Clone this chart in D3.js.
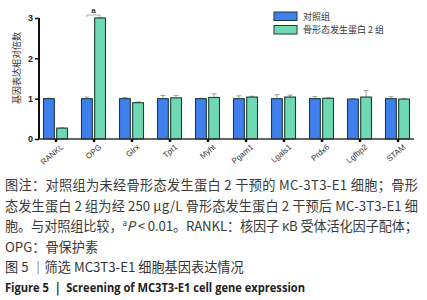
<!DOCTYPE html>
<html lang="zh">
<head>
<meta charset="UTF-8">
<title>MC3T3-E1 基因表达</title>
<script src="https://cdn.jsdelivr.net/npm/d3@7"></script>
<style>
  body { margin: 0; background: #fff; }
  svg { display: block; }
  .cap { font-family: "Noto Sans CJK SC", sans-serif; font-size: 13.2px; fill: #3a3a3a; }
</style>
</head>
<body>
<svg width="427" height="300"></svg>
<script>
// ---- data ----
var genes = ["RANKL", "OPG", "Glrx", "Tpt1", "Myht", "Pgam1", "Lgals1", "Prdx6", "Lgfbp2", "STAM"];
var groups = ["对照组", "骨形态发生蛋白 2 组"];
var controlVals = [1.00, 1.00, 1.00, 1.00, 1.00, 1.00, 1.00, 1.00, 0.99, 1.00];
var controlErr  = [0.01, 0.04, 0.03, 0.08, 0.01, 0.07, 0.10, 0.05, 0.01, 0.05];
var bmpVals     = [0.27, 3.00, 0.90, 1.02, 1.03, 1.04, 1.04, 1.01, 1.04, 0.99];
var bmpErr      = [0.01, 0.01, 0.02, 0.06, 0.09, 0.02, 0.05, 0.01, 0.16, 0.01];
var yTicks = [0, 1, 2, 3];
// "|" marks where the superscript a goes; the letter after it is italic
var captionLines = [
  "图注：对照组为未经骨形态发生蛋白 2 干预的 MC-3T3-E1 细胞；骨形",
  "态发生蛋白 2 组为经 250 μg/L 骨形态发生蛋白 2 干预后 MC-3T3-E1 细",
  "胞。与对照组比较，|P < 0.01。RANKL：核因子 κB 受体活化因子配体；",
  "OPG：骨保护素"
];

var colors = ["#3f80ee", "#6fd9b3"];
var svg = d3.select("svg");

var x = d3.scaleBand().domain(genes).range([37, 417]);
var sub = d3.scaleBand().domain(groups).range([-12.5, 11.5]).paddingInner(0.18);
var y = d3.scaleLinear().domain([0, 3]).range([139, 18]);

var rows = genes.map(function (g, i) {
  return { gene: g, vals: [controlVals[i], bmpVals[i]], errs: [controlErr[i], bmpErr[i]] };
});

var g = svg.append("g");

// error bars (behind bars)
rows.forEach(function (r) {
  groups.forEach(function (grp, k) {
    var cx = x(r.gene) + x.bandwidth() / 2 + sub(grp) + sub.bandwidth() / 2;
    var top = y(r.vals[k] + r.errs[k]);
    g.append("line").attr("x1", cx).attr("x2", cx)
      .attr("y1", y(r.vals[k])).attr("y2", top)
      .attr("stroke", "#888").attr("stroke-width", 0.8);
    g.append("line").attr("x1", cx - 2.5).attr("x2", cx + 2.5)
      .attr("y1", top).attr("y2", top)
      .attr("stroke", "#888").attr("stroke-width", 0.8);
  });
});

// bars
var pair = g.selectAll(".pair").data(rows).enter().append("g")
  .attr("transform", function (d) { return "translate(" + (x(d.gene) + x.bandwidth() / 2) + ",0)"; });
pair.selectAll("rect").data(function (d) { return d.vals; }).enter().append("rect")
  .attr("x", function (d, i) { return sub(groups[i]); })
  .attr("y", function (d) { return y(d); })
  .attr("width", sub.bandwidth())
  .attr("height", function (d) { return y(0) - y(d); })
  .attr("fill", function (d, i) { return colors[i]; })
  .attr("stroke", "#1d3b37").attr("stroke-width", 1.1);

// y axis
var yAxis = svg.append("g").attr("transform", "translate(39,0)")
  .call(d3.axisLeft(y).tickValues(yTicks).tickSize(4).tickFormat(d3.format("d")));
yAxis.select(".domain").attr("stroke", "#111").attr("stroke-width", 2)
  .attr("d", "M0," + y(3) + "V" + y(0));
yAxis.selectAll(".tick line").attr("stroke", "#111").attr("stroke-width", 1.5);
yAxis.selectAll("text").attr("font-family", "Liberation Sans, Arial, sans-serif")
  .attr("font-size", 9).attr("font-weight", "bold").attr("fill", "#222").attr("x", -6);

// x axis
var xAxis = svg.append("g").attr("transform", "translate(0," + y(0) + ")")
  .call(d3.axisBottom(x).tickSize(3).tickFormat(""));
xAxis.select(".domain").attr("stroke", "#333").attr("stroke-width", 1.4)
  .attr("d", "M39,0H414");
xAxis.selectAll(".tick line").attr("stroke", "#111").attr("stroke-width", 2.5);

svg.append("g").selectAll("text").data(genes).enter().append("text")
  .attr("transform", function (d) {
    return "translate(" + (x(d) + x.bandwidth() / 2 + 8) + ",148) rotate(-40)";
  })
  .attr("text-anchor", "end")
  .attr("font-family", "Liberation Sans, Arial, sans-serif")
  .attr("font-size", 8).attr("fill", "#333")
  .text(function (d) { return d; });

// y label
svg.append("text")
  .attr("transform", "translate(20,68) rotate(-90)")
  .attr("text-anchor", "middle")
  .attr("font-family", "Noto Sans CJK SC, sans-serif")
  .attr("font-size", 9).attr("fill", "#333")
  .text("基因表达相对倍数");

// significance bracket over OPG
var ox = x("OPG") + x.bandwidth() / 2;
var bx1 = ox + sub(groups[0]) + sub.bandwidth() / 2, bx2 = ox + sub(groups[1]) + sub.bandwidth() / 2;
svg.append("path")
  .attr("d", "M" + bx1 + ",17V15H" + bx2 + "V17")
  .attr("fill", "none").attr("stroke", "#999").attr("stroke-width", 0.8);
svg.append("text").attr("x", (bx1 + bx2) / 2).attr("y", 13)
  .attr("text-anchor", "middle").attr("font-family", "Liberation Sans, Arial, sans-serif")
  .attr("font-size", 8).attr("font-weight", "bold").attr("fill", "#333").text("a");

// legend
var leg = svg.append("g").selectAll("g").data(groups).enter().append("g")
  .attr("transform", function (d, i) { return "translate(274," + (12 + i * 13.5) + ")"; });
leg.append("rect").attr("width", 23).attr("height", 8.5)
  .attr("fill", function (d, i) { return colors[i]; })
  .attr("stroke", "#1d3b37").attr("stroke-width", 1);
leg.append("text").attr("x", 29).attr("y", 7.5)
  .attr("font-family", "Noto Sans CJK SC, sans-serif")
  .attr("font-size", 9).attr("fill", "#333")
  .text(function (d) { return d; });

// caption
var cap = svg.append("g").selectAll("text").data(captionLines).enter().append("text")
  .attr("class", "cap").attr("x", 5)
  .attr("y", function (d, i) { return 190 + i * 20.5; })
  .attr("textLength", function (d, i) { return i < 3 ? 413 : null; })
  .attr("lengthAdjust", "spacing");
cap.each(function (d) {
  var parts = d.split("|");
  var t = d3.select(this);
  t.append("tspan").text(parts[0]);
  if (parts.length > 1) {
    t.append("tspan").attr("font-size", 8).attr("dy", -5).text("a");
    t.append("tspan").attr("font-style", "italic").attr("dy", 5).text(parts[1].charAt(0));
    t.append("tspan").text(parts[1].slice(1));
  }
});

svg.append("text").attr("class", "cap").attr("x", 5).attr("y", 272)
  .style("fill", "#333").text("图 5 ｜筛选 MC3T3-E1 细胞基因表达情况");
svg.append("text").attr("x", 5).attr("y", 292)
  .attr("font-family", "Open Sans, Noto Sans, sans-serif")
  .attr("font-size", 12.5).attr("font-weight", "bold").attr("fill", "#222")
  .attr("textLength", 300).attr("lengthAdjust", "spacingAndGlyphs")
  .text("Figure 5 ｜ Screening of MC3T3-E1 cell gene expression");
</script>
</body>
</html>
